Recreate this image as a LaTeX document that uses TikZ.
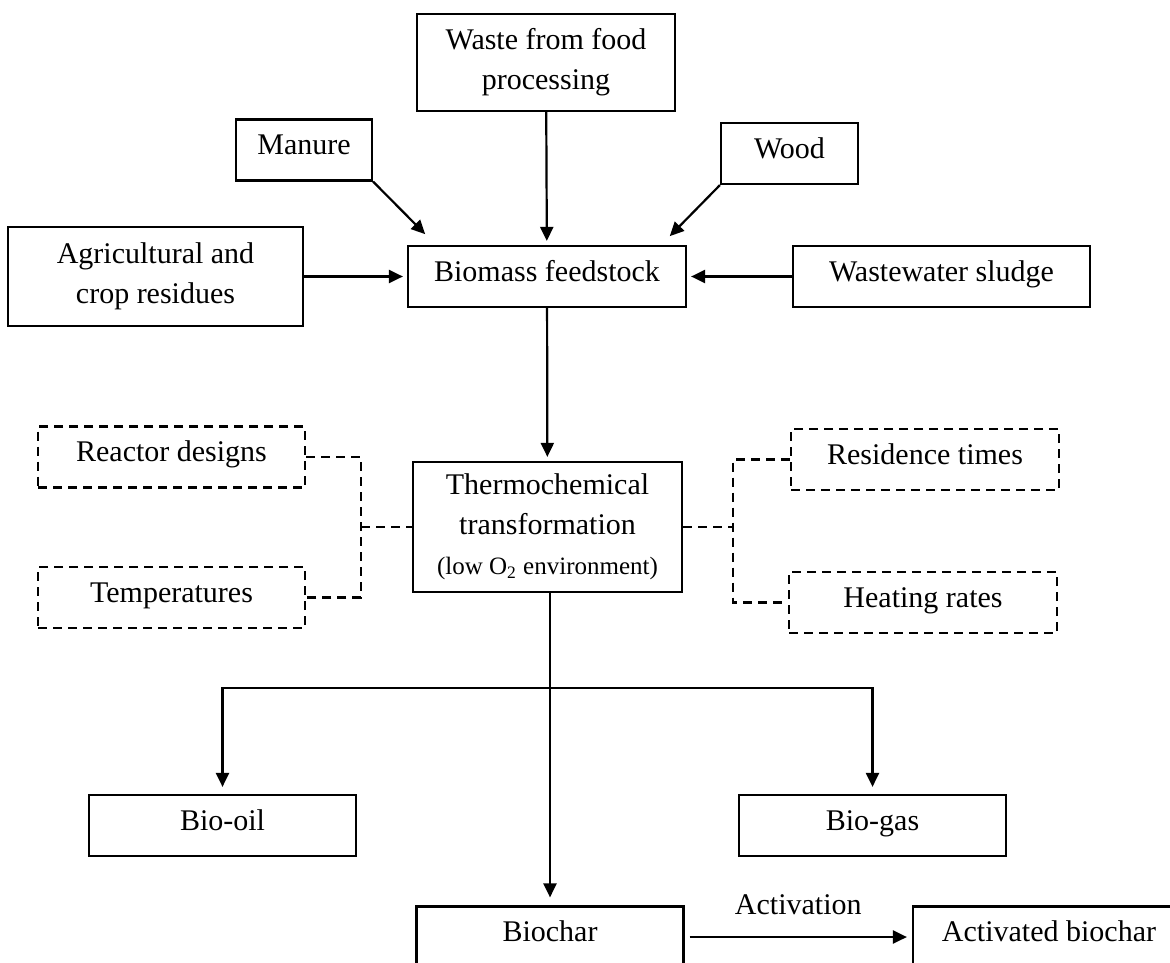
\documentclass[tikz,border=0pt]{standalone}
\usepackage{fontspec}
\setmainfont{Liberation Serif}
\usetikzlibrary{arrows.meta, positioning, calc}

\begin{document}
\begin{tikzpicture}[x=0.5pt, y=-0.5pt, >={Triangle[length=7pt, width=6.5pt]},
  box/.style={rectangle, draw, line width=1.1pt, minimum height=30.5pt,
              align=center, inner sep=2pt, font=\fontsize{15}{20}\selectfont},
  single/.style={text height=0.7em, text depth=0.22em},
  dbox/.style={box, single, dash pattern=on 4.5pt off 3pt},
  arr/.style={->, line width=1.1pt, shorten >=2pt},
  dline/.style={line width=1.1pt, dash pattern=on 4.5pt off 3pt},
  lbl/.style={font=\fontsize{15}{20}\selectfont, inner sep=2pt}
]
\useasboundingbox (0,0) rectangle (1170,962);
\clip (0,0) rectangle (1170,962);

%% ---- Feedstock sources ----
\node[box, minimum width=129pt, minimum height=48.5pt] (waste) at (546,62.5) {Waste from food\\processing};
\node[box, single, minimum width=68pt]    (manure) at (304,150)     {Manure};
\node[box, single, minimum width=68.5pt]  (wood)   at (789.5,153.5) {Wood};
\node[box, minimum width=147.5pt, minimum height=49.5pt] (agri) at (155.5,276.5) {Agricultural and\\crop residues};
\node[box, single, minimum width=139pt]   (feed)   at (547,276.5)   {Biomass feedstock};
\node[box, single, minimum width=148.5pt] (sludge) at (941.5,276.5) {Wastewater sludge};

%% ---- Conversion and its conditions ----
\node[box, minimum width=134.5pt, minimum height=65pt] (thermo) at (547.5,527)
  {Thermochemical\\transformation\\{\fontsize{12.5}{15}\selectfont (low O\textsubscript{2} environment)}};
\node[dbox, minimum width=133.5pt] (reactor) at (171.5,457)   {Reactor designs};
\node[dbox, minimum width=133.5pt] (temps)   at (171.5,597.5) {Temperatures};
\node[dbox, minimum width=134pt]   (resid)   at (925,459.5)   {Residence times};
\node[dbox, minimum width=134pt]   (heat)    at (923,602.5)   {Heating rates};

%% ---- Products ----
\node[box, single, minimum width=133.5pt] (oil)     at (222.5,825.5) {Bio-oil};
\node[box, single, minimum width=133.5pt] (gas)     at (872.5,825.5) {Bio-gas};
\node[box, single, minimum width=133.5pt] (char)    at (550,937)     {Biochar};
\node[box, single, minimum width=136pt]   (actchar) at (1049,937)    {Activated biochar};

%% ---- Feedstock arrows ----
\coordinate (mtip) at (428,237);
\coordinate (wtip) at (667,239);
\draw[arr] (manure.south east) -- (mtip);
\draw[arr] (wood.south west) -- (wtip);
\draw[arr] (waste)  -- (feed);
\draw[arr] (agri)   -- (feed);
\draw[arr] (sludge) -- (feed);
\draw[arr] (feed)   -- (thermo);

%% ---- Process conditions ----
\coordinate (lbus) at (361,527);
\coordinate (rbus) at (733,527);
\draw[dline] (reactor.east) -| (lbus) |- (temps.east);
\draw[dline] (lbus) -- (thermo.west);
\draw[dline] (resid.west) -| (rbus) |- (heat.west);
\draw[dline] (thermo.east) -- (rbus);

%% ---- Product split ----
\coordinate (split) at (550,688);
\draw[line width=1.1pt] (thermo.south -| split) -- (split);
\draw[arr, shorten >=3.5pt] (split) -| (oil);
\draw[arr, shorten >=3.5pt] (split) -| (gas);
\draw[arr, shorten >=4pt] (split) -- (char);
\draw[arr, shorten <=2.5pt, shorten >=2.5pt] (char) -- node[lbl, above=8.5pt]{Activation} (actchar);

\end{tikzpicture}
\end{document}
